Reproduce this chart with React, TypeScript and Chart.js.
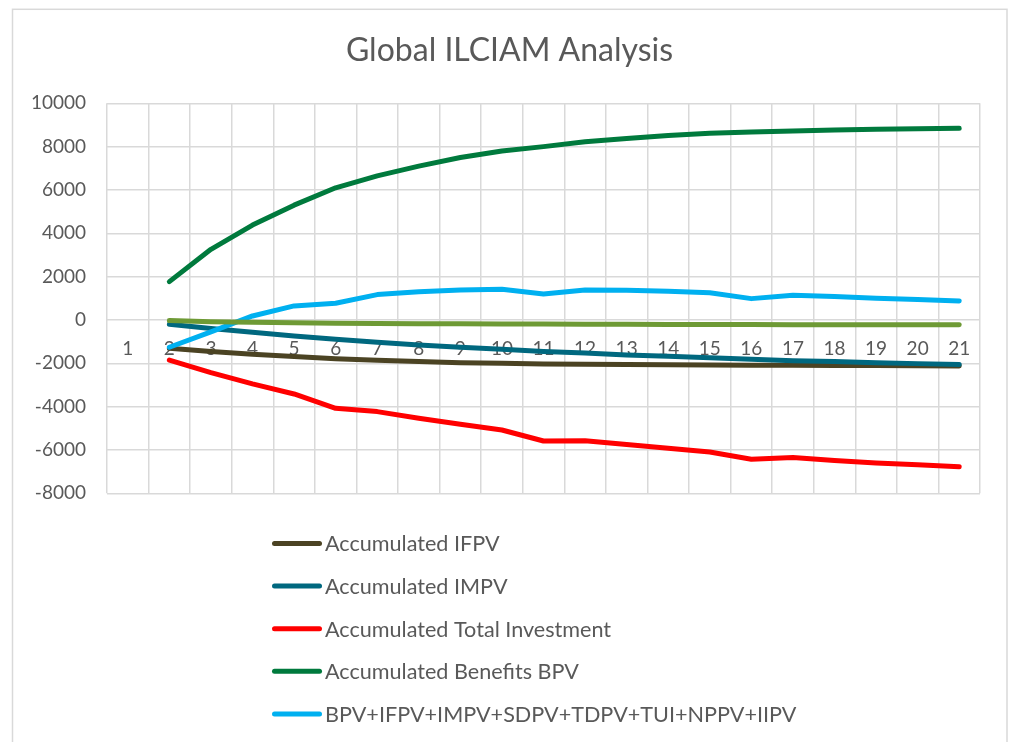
import { useEffect, useRef } from 'react';
import { Chart, registerables } from 'chart.js';

Chart.register(...registerables);

const categories = ['1', '2', '3', '4', '5', '6', '7', '8', '9', '10', '11', '12', '13', '14', '15', '16', '17', '18', '19', '20', '21'];

const accIFPV = [null, -1310, -1460, -1585, -1690, -1785, -1860, -1920, -1970, -2000, -2030, -2045, -2060, -2070, -2080, -2090, -2095, -2100, -2105, -2110, -2120];
const accIMPV = [null, -200, -390, -570, -740, -890, -1030, -1150, -1260, -1350, -1450, -1520, -1615, -1680, -1740, -1815, -1880, -1920, -1970, -2015, -2060];
const accTotalInvestment = [null, -1850, -2430, -2950, -3415, -4080, -4230, -4540, -4815, -5080, -5585, -5570, -5750, -5920, -6090, -6430, -6350, -6490, -6600, -6680, -6780];
const accBenefitsBPV = [null, 1770, 3260, 4380, 5300, 6100, 6650, 7100, 7500, 7800, 8000, 8230, 8380, 8510, 8615, 8680, 8720, 8770, 8800, 8830, 8850];
const netSum = [null, -1260, -550, 185, 650, 770, 1170, 1300, 1385, 1415, 1200, 1385, 1370, 1320, 1260, 985, 1140, 1080, 1000, 940, 877];
const accSDPV = [null, -30, -80, -110, -130, -150, -160, -170, -180, -185, -190, -195, -200, -205, -210, -212, -215, -218, -220, -222, -225];

const seriesNames = [
  'Accumulated IFPV',
  'Accumulated IMPV',
  'Accumulated Total Investment',
  'Accumulated Benefits BPV',
  'BPV+IFPV+IMPV+SDPV+TDPV+TUI+NPPV+IIPV',
  'Accumulated SDPV',
];
const seriesColors = ['#4B4323', '#00687F', '#FF0000', '#007A3D', '#00B0F0', '#6E9A35'];

const yTicks = [-8000, -6000, -4000, -2000, 0, 2000, 4000, 6000, 8000, 10000];

const TEXT = '#595959';
const GRID = '#D9D9D9';
const FONT = 'Lato';

export default function App() {
  const ref = useRef<HTMLCanvasElement>(null);

  useEffect(() => {
    const seriesData = [accIFPV, accIMPV, accTotalInvestment, accBenefitsBPV, netSum, accSDPV];
    const n = seriesData.length;
    const datasets = seriesData.map((d, i) => ({
      label: seriesNames[i],
      data: d,
      borderColor: seriesColors[i],
      backgroundColor: seriesColors[i],
      borderWidth: 5,
      pointRadius: 0,
      pointHoverRadius: 0,
      tension: 0,
      borderCapStyle: 'round' as const,
      borderJoinStyle: 'round' as const,
      fill: false,
      order: n - 1 - i,
      yAxisID: 'y',
    }));

    const framePlugin = {
      id: 'frame',
      beforeDraw(chart: any) {
        const ctx = chart.ctx;
        ctx.save();
        ctx.fillStyle = '#ffffff';
        ctx.fillRect(0, 0, chart.width, chart.height);
        ctx.strokeStyle = GRID;
        ctx.lineWidth = 1.5;
        ctx.strokeRect(12.5, 9.3, 994.5, 800);
        ctx.restore();
      },
    };

    const legendPlugin = {
      id: 'vlegend',
      afterDraw(chart: any) {
        const ctx = chart.ctx;
        ctx.save();
        chart.data.datasets.forEach((ds: any, i: number) => {
          const y = 543.5 + i * 42.6;
          ctx.strokeStyle = ds.borderColor;
          ctx.lineWidth = 5;
          ctx.lineCap = 'round';
          ctx.beginPath();
          ctx.moveTo(274.5, y);
          ctx.lineTo(319.5, y);
          ctx.stroke();
          ctx.fillStyle = TEXT;
          ctx.font = `21.6px ${FONT}`;
          ctx.textBaseline = 'middle';
          ctx.textAlign = 'left';
          ctx.fillText(ds.label, 325, y + 1);
        });
        ctx.restore();
      },
    };

    const chart = new Chart(ref.current as HTMLCanvasElement, {
      type: 'line',
      data: { labels: categories, datasets: datasets as any },
      options: {
        responsive: false,
        animation: false,
        layout: { padding: { left: 9, right: 0, top: 0, bottom: 248.7 } },
        plugins: {
          legend: { display: false },
          tooltip: { enabled: false },
          title: {
            display: true,
            text: 'Global ILCIAM Analysis',
            color: TEXT,
            font: { family: FONT, size: 32, weight: 'normal' },
            padding: { top: 31, bottom: 33.9 },
          },
        },
        scales: {
          x: {
            position: { y: 0 } as any,
            offset: true,
            grid: { offset: true, color: GRID, lineWidth: 1.5, drawTicks: false },
            border: { display: false },
            ticks: {
              color: TEXT,
              font: { family: FONT, size: 19 },
              padding: 18,
              maxRotation: 0,
              autoSkip: false,
            },
          },
          y: {
            position: 'left',
            min: yTicks[0],
            max: yTicks[yTicks.length - 1],
            afterBuildTicks(scale: any) {
              scale.ticks = yTicks.map((v) => ({ value: v }));
            },
            afterFit(scale: any) {
              scale.width = 98;
            },
            grid: { color: GRID, lineWidth: 1.5, drawTicks: false },
            border: { display: false },
            ticks: {
              color: TEXT,
              font: { family: FONT, size: 19 },
              padding: 21,
              callback: (v: any) => String(v),
            },
          },
          yRightSpace: {
            type: 'linear',
            position: 'right',
            display: true,
            min: yTicks[0],
            max: yTicks[yTicks.length - 1],
            grid: { display: false, drawTicks: false },
            border: { display: false },
            ticks: { display: false },
            afterFit(scale: any) {
              scale.width = 30;
            },
          },
        },
      },
      plugins: [framePlugin, legendPlugin],
    });

    return () => chart.destroy();
  }, []);

  return (
    <div style={{ position: 'fixed', left: 0, top: 0, width: 1010, height: 742, background: '#fff' }}>
      <canvas ref={ref} width={1010} height={742} style={{ display: 'block' }} />
    </div>
  );
}
